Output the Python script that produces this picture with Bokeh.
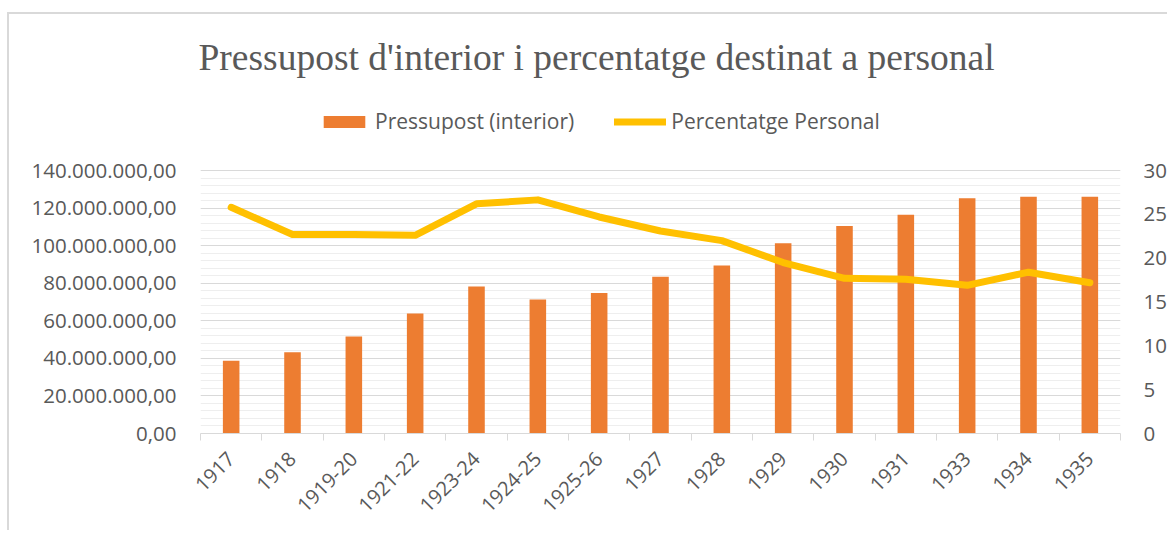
import math
from bokeh.plotting import figure
from bokeh.models import (Range1d, LinearAxis, FixedTicker, Legend, LegendItem)
from bokeh.embed import file_html
from bokeh.resources import INLINE

# ---------------- data ----------------
categories = ["1917", "1918", "1919-20", "1921-22", "1923-24", "1924-25", "1925-26",
              "1927", "1928", "1929", "1930", "1931", "1933", "1934", "1935"]
budget = [38.7e6, 43.2e6, 51.7e6, 63.9e6, 78.2e6, 71.3e6, 74.8e6,
          83.5e6, 89.4e6, 101.3e6, 110.5e6, 116.4e6, 125.2e6, 126.0e6, 126.0e6]
pct_personal = [25.8, 22.7, 22.7, 22.6, 26.2, 26.65, 24.7,
                23.1, 22.0, 19.5, 17.7, 17.6, 16.9, 18.4, 17.2]
left_ticks = [0, 20000000, 40000000, 60000000, 80000000, 100000000, 120000000, 140000000]
left_tick_labels = ["0,00", "20.000.000,00", "40.000.000,00", "60.000.000,00",
                    "80.000.000,00", "100.000.000,00", "120.000.000,00", "140.000.000,00"]
right_ticks = [0, 5, 10, 15, 20, 25, 30]
title_text = "Pressupost d'interior i percentatge destinat a personal"
series_names = ["Pressupost (interior)", "Percentatge Personal"]

# ---------------- styling / layout ----------------
BAR = "#ED7D31"
LINE = "#FFC000"
TXT = "#595959"
FONT = "Open Sans"

LEFT_MAX = 140e6
RIGHT_MAX = 30
FRAME_H = 343      # px of the whole frame (legend lives in its upper part)
AXIS_H = 263       # px used by 0..LEFT_MAX
scale = FRAME_H / AXIS_H

n = len(categories)
xs = [i + 0.5 for i in range(n)]
bounds = list(range(n + 1))

p = figure(width=1160, height=518, output_backend="svg", toolbar_location=None,
           x_range=Range1d(0, n), y_range=Range1d(0, LEFT_MAX * scale),
           min_border_left=191, min_border_right=49, min_border_top=76,
           min_border_bottom=99, tools="")
p.styles = {"margin-top": "12px", "margin-left": "7px",
            "border-top": "2px solid #d9d9d9", "border-left": "2px solid #d9d9d9"}
p.outline_line_color = None
p.background_fill_color = "white"
p.border_fill_color = "white"

p.title.text = title_text
p.title.text_font = "Liberation Serif"
p.title.text_font_size = "37.5px"
p.title.text_font_style = "normal"
p.title.text_color = TXT
p.title.align = "left"
p.title.offset = -2
p.title.standoff = 25

p.extra_y_ranges = {"pct": Range1d(0, RIGHT_MAX * scale)}

# bars and line
bars = p.vbar(x=xs, top=budget, width=0.27, fill_color=BAR, line_color=None)
ln = p.line(xs, pct_personal, y_range_name="pct", line_color=LINE, line_width=7,
            line_cap="round", line_join="round")

# x axis
xa = p.xaxis[0]
xa.ticker = FixedTicker(ticks=xs, minor_ticks=bounds)
xa.major_label_overrides = {x: c for x, c in zip(xs, categories)}
xa.major_label_orientation = math.pi / 4
xa.major_tick_out = 0
xa.major_tick_in = 0
xa.minor_tick_out = 7
xa.minor_tick_in = 0
xa.minor_tick_line_color = "#d9d9d9"
xa.axis_line_color = "#d9d9d9"
xa.axis_line_width = 1
xa.major_label_text_font = FONT
xa.major_label_text_font_size = "20px"
xa.major_label_text_color = TXT
xa.major_label_standoff = 15

# left axis
ya = p.yaxis[0]
ya.ticker = FixedTicker(ticks=left_ticks,
                        minor_ticks=[v * 4000000 for v in range(0, 36)])
ya.major_label_overrides = {t: l for t, l in zip(left_ticks, left_tick_labels)}
ya.axis_line_color = None
ya.major_tick_line_color = None
ya.minor_tick_line_color = None
ya.major_tick_out = 0
ya.minor_tick_out = 0
ya.major_label_text_font = FONT
ya.major_label_text_font_size = "20.5px"
ya.major_label_text_color = TXT
ya.major_label_standoff = 24

# right axis
ra = LinearAxis(y_range_name="pct", ticker=FixedTicker(ticks=right_ticks))
ra.axis_line_color = None
ra.major_tick_line_color = None
ra.minor_tick_line_color = None
ra.major_tick_out = 0
ra.minor_tick_out = 0
ra.major_label_text_font = FONT
ra.major_label_text_font_size = "20.5px"
ra.major_label_text_color = TXT
ra.major_label_standoff = 23
p.add_layout(ra, "right")

# grid
p.xgrid.grid_line_color = None
p.ygrid.grid_line_color = "#d9d9d9"
p.ygrid.grid_line_width = 1
p.ygrid.minor_grid_line_color = "#eeeeee"
p.ygrid.minor_grid_line_width = 1

# legend (inside the upper, grid-free part of the frame)
legend = Legend(items=[LegendItem(label=series_names[0], renderers=[bars]),
                       LegendItem(label=series_names[1], renderers=[ln])],
                orientation="horizontal", location=(118, 298),
                label_text_font=FONT, label_text_font_size="21px",
                label_text_color=TXT, glyph_width=52, glyph_height=15,
                label_standoff=5, spacing=40, padding=0, margin=0,
                border_line_color=None, background_fill_alpha=0)
p.add_layout(legend)

open("out.html", "w").write(file_html(p, INLINE))
